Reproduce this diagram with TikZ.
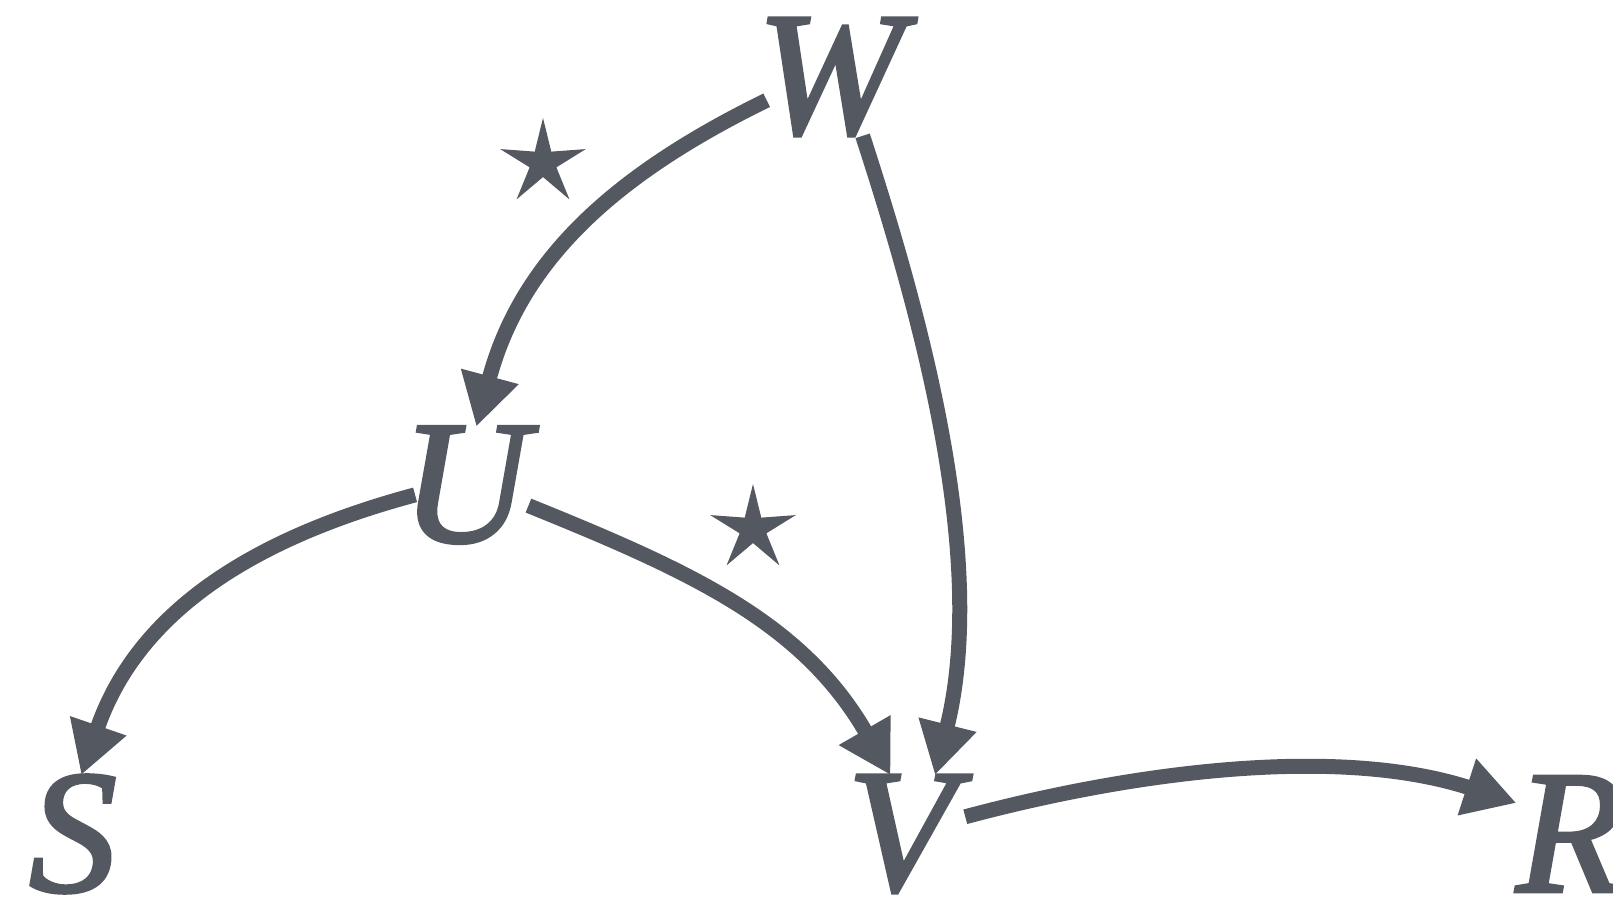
\documentclass[tikz,border=0pt]{standalone}
\usepackage{fontspec}
\setmainfont{Liberation Serif}[ItalicFeatures={FakeBold=2}]
\usetikzlibrary{arrows.meta,shapes.geometric}
\definecolor{edgegray}{HTML}{545860}

\begin{document}
\begin{tikzpicture}[
    var/.style={font=\fontsize{50}{50}\selectfont\itshape, text=edgegray, inner sep=0pt, outer sep=0pt},
    arrow/.style={-{Triangle[length=0.52cm, width=0.56cm]}, line width=0.15cm, edgegray},
    mark star/.style={star, star points=5, star point ratio=3.2, minimum size=0.9cm, inner sep=0pt, fill=edgegray}
]
\useasboundingbox (0,0) rectangle (16.13,9);

% Variables
\node[var] (W) at (8.30, 8.23) {W};
\node[var] (U) at (4.65, 4.15) {U};
\node[var] (S) at (0.73, 0.66) {S};
\node[var] (V) at (9.01, 0.66) {V};
\node[var] (R) at (15.70, 0.66) {R};

% Edges
\draw[arrow, shorten <=-0.11cm] (W.201) to[out=206, in=75] (U.79);
\draw[arrow] (W.299) to[out=288, in=76, out looseness=0.7, in looseness=0.9] (V.60);
\draw[arrow, shorten <=-0.14cm] (U.192) to[out=195, in=71] (S.82);
\draw[arrow] (U.342) to[out=338, in=120] (V.100);
\draw[arrow, shorten <=0.11cm] (V.15) to[out=15, in=162, looseness=0.85] (R.150);

% Stars
\node[mark star] (star1) at (5.43, 7.37) {};
\node[mark star] (star2) at (7.53, 3.71) {};

\end{tikzpicture}
\end{document}
